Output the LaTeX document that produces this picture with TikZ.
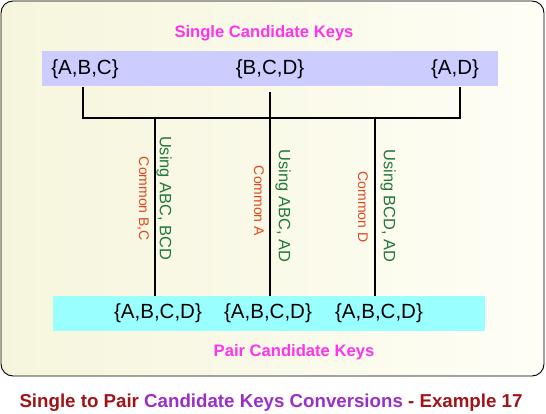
\documentclass[tikz,border=0pt]{standalone}
\usepackage{fontspec}
\setmainfont{Liberation Sans}
\definecolor{cream}{HTML}{F6F5DC}
\definecolor{creamr}{HTML}{FEFEF6}
\definecolor{topbg}{HTML}{CCCCFF}
\definecolor{botbg}{HTML}{99FFFF}
\definecolor{magent}{HTML}{FF33EE}
\definecolor{usegreen}{HTML}{23783A}
\definecolor{comorange}{HTML}{E0481C}
\definecolor{capred}{HTML}{A01418}
\definecolor{cappurple}{HTML}{9A2FC8}
\begin{document}
\begin{tikzpicture}[x=1pt,y=-1pt,
  keytext/.style={inner sep=0pt,font=\fontsize{20.5}{24}\selectfont},
  bartitle/.style={inner sep=0pt,text=magent,font=\fontsize{16.6}{20}\selectfont\bfseries},
  usinglbl/.style={inner sep=0pt,rotate=-90,text=usegreen,font=\fontsize{16.4}{19}\selectfont},
  commonlbl/.style={inner sep=0pt,rotate=-90,text=comorange,font=\fontsize{14}{17}\selectfont},
  conn/.style={line width=1.6pt,black},
  bar/.style={draw=none,inner sep=0pt}]
\useasboundingbox (0,0) rectangle (546,414);
% outer panel
\path[left color=cream,right color=creamr,rounded corners=12pt]
  (1,1) rectangle (544,376);
\draw[black,line width=0.9pt,rounded corners=12pt] (1,1) rectangle (544,376);
% bars
\node[bar,fill=topbg,minimum width=456pt,minimum height=35pt] (topbar) at (270,69) {};
\node[bar,fill=botbg,minimum width=432pt,minimum height=35pt] (botbar) at (269,313.5) {};
% titles
\node[bartitle] (stitle) at (264,33) {Single Candidate Keys};
\node[bartitle] (ptitle) at (294,352) {Pair Candidate Keys};
% top keys
\node[keytext] (abc) at (85,69) {\{A,B,C\}};
\node[keytext] (bcd) at (270,69) {\{B,C,D\}};
\node[keytext] (ad) at (455,69) {\{A,D\}};
% bottom keys
\node[keytext] (k1) at (158,313) {\{A,B,C,D\}};
\node[keytext] (k2) at (268,313) {\{A,B,C,D\}};
\node[keytext] (k3) at (379,313) {\{A,B,C,D\}};
% junction coordinates
\coordinate (jl) at (83,118);
\coordinate (jr) at (460,118);
\coordinate (j1) at (155,118);
\coordinate (j3) at (375,118);
\coordinate (mtop) at (270,92);
% connectors
\draw[conn] (jl |- topbar.south) -- (jl) -- (jr) -- (jr |- topbar.south);
\draw[conn] (mtop) -- (mtop |- botbar.north);
\draw[conn] (j1) -- (j1 |- botbar.north);
\draw[conn] (j3) -- (j3 |- botbar.north);
% labels
\node[usinglbl] (u1) at (164,198) {Using ABC, BCD};
\node[commonlbl] (c1) at (143,199) {Common B,C};
\node[commonlbl] (c2) at (259,201) {Common A};
\node[usinglbl] (u2) at (283,206) {Using ABC, AD};
\node[commonlbl] (c3) at (363,207) {Common D};
\node[usinglbl] (u3) at (388,206) {Using BCD, AD};
% caption
\node[inner sep=0pt,font=\fontsize{18.7}{22}\selectfont\bfseries] (cap) at (271,403)
  {\textcolor{capred}{Single to Pair}\ \textcolor{cappurple}{Candidate Keys Conversions}\ \textcolor{capred}{-\ Example 17}};
\end{tikzpicture}
\end{document}
